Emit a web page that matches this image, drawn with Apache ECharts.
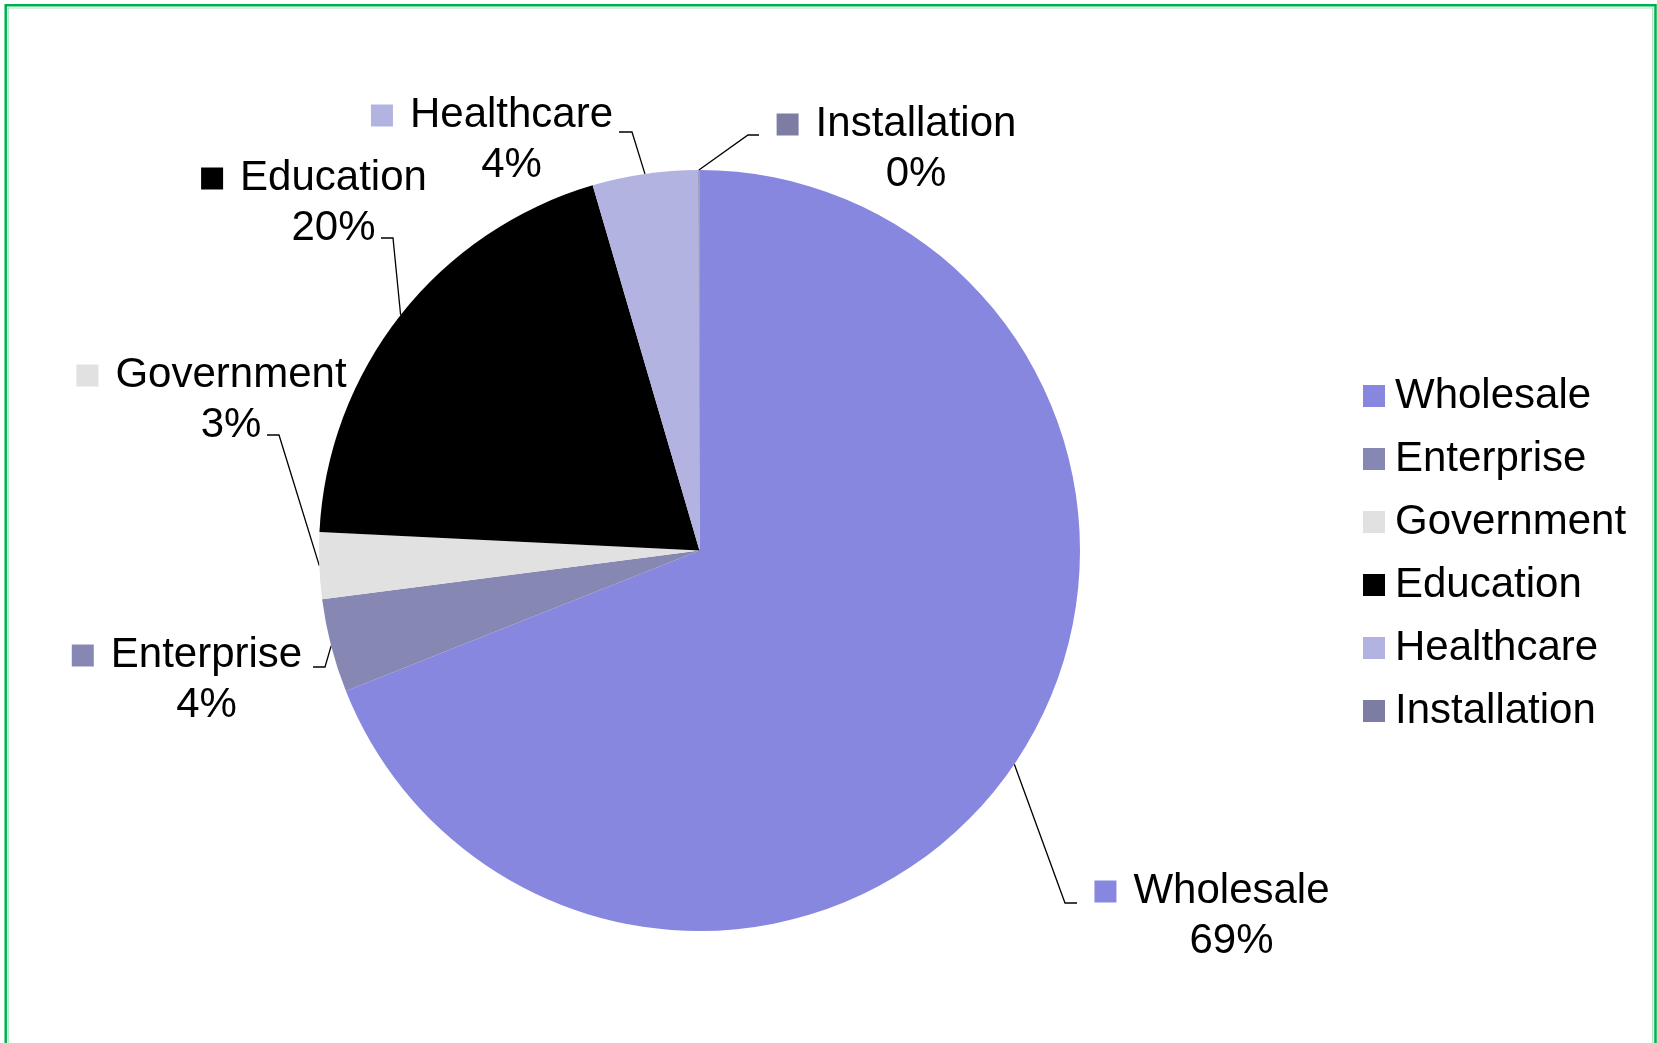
<!DOCTYPE html>
<html><head><meta charset="utf-8">
<script src="https://cdn.jsdelivr.net/npm/echarts@6/dist/echarts.min.js"></script>
<style>html,body{margin:0;padding:0;background:#fff;overflow:hidden}#c{width:1657px;height:1043px}</style>
</head><body><div id="c"></div>
<script>
// ---- data ----
const categories = ['Wholesale', 'Enterprise', 'Government', 'Education', 'Healthcare', 'Installation'];
const values = [68.98, 3.98, 2.81, 19.70, 4.48, 0.05];
const colors = ['#8787E0', '#8787B3', '#E1E1E1', '#000000', '#B3B3E1', '#7D7DA3'];

// ---- label layout (text centre of first line, leader bend & end) ----
const labelAnchor = [[1231.5, 891.5], [206.5, 655.5], [231, 375.5], [333.5, 178.5], [511.5, 115.5], [916, 124.5]];
const leaderBend = [[1065, 903], [325, 667], [279, 435], [393, 238], [632, 132], [748, 135]];
const leaderEnd = [[1077, 903], [313, 667], [267, 435], [381, 238], [619, 132], [759, 135]];

const F = '"Liberation Sans", Arial, sans-serif';
const CX = 699.5, CY = 550.5, R = 380.5, LH = 49.5;
const total = values.reduce((a, b) => a + b, 0);
const midAngles = [];
let acc = 0;
values.forEach(v => { const a0 = acc / total * 360; acc += v; const a1 = acc / total * 360; midAngles.push((a0 + a1) / 2); });

const rich = {
  g: { width: 17, height: 22, verticalAlign: 'middle', align: 'center' },
  g2: { width: 39, height: 22, verticalAlign: 'middle', align: 'center' },
  nm: { fontSize: 42, fontFamily: F, color: '#000', lineHeight: LH, verticalAlign: 'middle', align: 'center' },
  pct: { fontSize: 42, fontFamily: F, color: '#000', lineHeight: LH, verticalAlign: 'middle', align: 'center' }
};
colors.forEach((c, i) => { rich['sq' + i] = { width: 22, height: 22, backgroundColor: c, verticalAlign: 'middle', align: 'center' }; });

const chart = echarts.init(document.getElementById('c'), null, { renderer: 'canvas' });
chart.setOption({
  animation: false,
  backgroundColor: '#fff',
  color: colors,
  graphic: [
    { type: 'rect', silent: true, shape: { x: 5.7, y: 5.3, width: 1649.8, height: 1200 }, style: { fill: 'none', stroke: '#00B050', lineWidth: 2.5 } },
    { type: 'rect', silent: true, shape: { x: 8.2, y: 8, width: 1644.5, height: 1200 }, style: { fill: 'none', stroke: '#A8E4BC', lineWidth: 1.2 } }
  ],
  legend: {
    orient: 'vertical', left: 1363, top: 375, padding: 0,
    itemWidth: 22, itemHeight: 22, itemGap: 21, icon: 'rect',
    textStyle: { fontSize: 42, fontFamily: F, color: '#000', lineHeight: 42, padding: [0, 0, 0, 5] },
    data: categories
  },
  series: [{
    type: 'pie',
    center: [CX, CY],
    radius: R,
    startAngle: 90,
    clockwise: true,
    avoidLabelOverlap: false,
    minShowLabelAngle: 0,
    itemStyle: { borderWidth: 0 },
    emphasis: { disabled: true },
    label: {
      show: true,
      position: 'outside',
      alignTo: 'none',
      overflow: 'none',
      align: 'center',
      lineHeight: LH,
      formatter: function (p) {
        const pct = Math.round(p.value / total * 100);
        return '{sq' + p.dataIndex + '|}{g|}{nm|' + p.name + '}{g2|}\n{pct|' + pct + '%}';
      },
      rich: rich
    },
    labelLine: { show: true, length: 5, length2: 5, lineStyle: { color: '#000', width: 1.3 } },
    labelLayout: function (p) {
      const i = p.dataIndex;
      const th = midAngles[i] * Math.PI / 180;
      const sx = CX + R * Math.sin(th), sy = CY - R * Math.cos(th);
      return {
        x: labelAnchor[i][0],
        y: labelAnchor[i][1] - LH / 2,
        align: 'center',
        verticalAlign: 'top',
        labelLinePoints: [[sx, sy], leaderBend[i].slice(), leaderEnd[i].slice()]
      };
    },
    data: categories.map((n, i) => ({ name: n, value: values[i] }))
  }]
});
</script>
</body></html>
